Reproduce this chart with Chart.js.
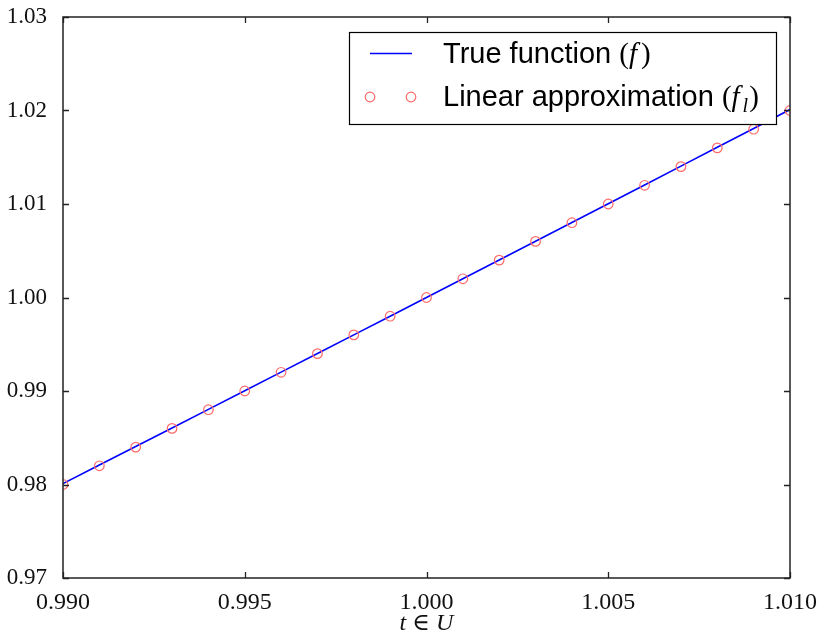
<!DOCTYPE html>
<html><head><meta charset="utf-8">
<script src="https://cdn.jsdelivr.net/npm/chart.js@4/dist/chart.umd.min.js"></script>
<style>html,body{margin:0;padding:0;background:#fff}#wrap{width:817px;height:639px}</style>
</head><body><div id="wrap"><canvas id="c" width="817" height="639"></canvas></div>
<script>
const tValues = [0.990,0.991,0.992,0.993,0.994,0.995,0.996,0.997,0.998,0.999,1.000,1.001,1.002,1.003,1.004,1.005,1.006,1.007,1.008,1.009,1.010];
const trueValues = [0.980100,0.982081,0.984064,0.986049,0.988036,0.990025,0.992016,0.994009,0.996004,0.998001,1.000000,1.002001,1.004004,1.006009,1.008016,1.010025,1.012036,1.014049,1.016064,1.018081,1.020100];
const linearValues = [0.980,0.982,0.984,0.986,0.988,0.990,0.992,0.994,0.996,0.998,1.000,1.002,1.004,1.006,1.008,1.010,1.012,1.014,1.016,1.018,1.020];
const xTicks = [0.990,0.995,1.000,1.005,1.010];
const yTicks = [0.97,0.98,0.99,1.00,1.01,1.02,1.03];
const seriesLabels = ["True function ", "Linear approximation "];
const xTitle = "t ∈ U";

const serif = '"Liberation Serif","DejaVu Serif",serif';
const sans = '"Liberation Sans","DejaVu Sans",sans-serif';

const framePlugin = {
  id: 'frame',
  afterDatasetsDraw(chart) {
    const {ctx, chartArea: a, scales: {x, y}} = chart;
    ctx.save();
    ctx.strokeStyle = '#222';
    ctx.lineWidth = 1.3;
    ctx.beginPath();
    xTicks.forEach(v => {
      const px = Math.round(x.getPixelForValue(v)) + 0.5;
      ctx.moveTo(px, a.bottom); ctx.lineTo(px, a.bottom - 6);
      ctx.moveTo(px, a.top); ctx.lineTo(px, a.top + 6);
    });
    yTicks.forEach(v => {
      const py = Math.round(y.getPixelForValue(v)) + 0.5;
      ctx.moveTo(a.left, py); ctx.lineTo(a.left + 6, py);
      ctx.moveTo(a.right, py); ctx.lineTo(a.right - 6, py);
    });
    ctx.stroke();
    ctx.lineWidth = 1.5;
    ctx.strokeRect(a.left, a.top, a.right - a.left, a.bottom - a.top);
    // x title
    ctx.fillStyle = '#111';
    ctx.font = 'italic 24px ' + serif;
    ctx.textAlign = 'center'; ctx.textBaseline = 'middle';
    ctx.fillText(xTitle, (a.left + a.right) / 2, 624);
    // legend
    const lx = 349, ly = 32, lw = 427, lh = 92;
    ctx.fillStyle = '#fff';
    ctx.fillRect(lx, ly, lw, lh);
    ctx.strokeStyle = '#000'; ctx.lineWidth = 1.2;
    ctx.strokeRect(lx + 0.5, ly + 0.5, lw, lh);
    ctx.strokeStyle = '#0000ff'; ctx.lineWidth = 1.6;
    ctx.beginPath(); ctx.moveTo(370, 53.5); ctx.lineTo(412, 53.5); ctx.stroke();
    ctx.strokeStyle = '#ff6a6a'; ctx.lineWidth = 1.2;
    [370, 411].forEach(cx => { ctx.beginPath(); ctx.arc(cx, 97, 4.8, 0, Math.PI * 2); ctx.stroke(); });
    ctx.fillStyle = '#000'; ctx.textAlign = 'left'; ctx.textBaseline = 'alphabetic';
    function seg(parts, x0, base) {
      let xx = x0;
      parts.forEach(p => {
        ctx.font = p[1];
        ctx.fillText(p[0], xx, base + (p[2] || 0));
        xx += ctx.measureText(p[0]).width + (p[3] || 0);
      });
    }
    seg([[seriesLabels[0], '29px ' + sans], ['(', '29px ' + serif], ['f', 'italic 29px ' + serif, 0, 4], [')', '29px ' + serif]], 443, 63);
    seg([[seriesLabels[1], '29px ' + sans], ['(', '29px ' + serif], ['f', 'italic 29px ' + serif, 0, 3], ['l', 'italic 20px ' + serif, 6, 1], [')', '29px ' + serif]], 443, 106);
    ctx.restore();
  }
};

new Chart(document.getElementById('c'), {
  type: 'scatter',
  data: {
    datasets: [
      { label: seriesLabels[0], data: tValues.map((t, i) => ({x: t, y: trueValues[i]})), showLine: true,
        borderColor: '#0000ff', borderWidth: 1.6, pointRadius: 0, tension: 0, order: 2 },
      { label: seriesLabels[1], data: tValues.map((t, i) => ({x: t, y: linearValues[i]})), showLine: false,
        borderColor: '#ff6a6a', backgroundColor: 'rgba(0,0,0,0)', borderWidth: 1.2, pointRadius: 4.8, order: 1 }
    ]
  },
  options: {
    responsive: false, animation: false, devicePixelRatio: 1,
    layout: { padding: { top: 17, right: 27, left: 0, bottom: 0 } },
    plugins: { legend: { display: false }, tooltip: { enabled: false } },
    scales: {
      x: { type: 'linear', min: 0.99, max: 1.01,
        afterBuildTicks: s => { s.ticks = xTicks.map(v => ({value: v})); },
        afterFit: s => { s.height = 61; s.paddingLeft = 0; s.paddingRight = 0; },
        grid: { display: false }, border: { display: false },
        ticks: { color: '#111', font: { family: serif, size: 24 }, padding: 2, maxRotation: 0,
          callback: v => Number(v).toFixed(3) } },
      y: { type: 'linear', min: 0.97, max: 1.03,
        afterBuildTicks: s => { s.ticks = yTicks.map(v => ({value: v})); },
        afterFit: s => { s.width = 63; s.paddingTop = 0; s.paddingBottom = 0; },
        grid: { display: false }, border: { display: false },
        ticks: { color: '#111', font: { family: serif, size: 23 }, padding: 8,
          callback: v => Number(v).toFixed(2) } }
    }
  },
  plugins: [framePlugin]
});
</script></body></html>
